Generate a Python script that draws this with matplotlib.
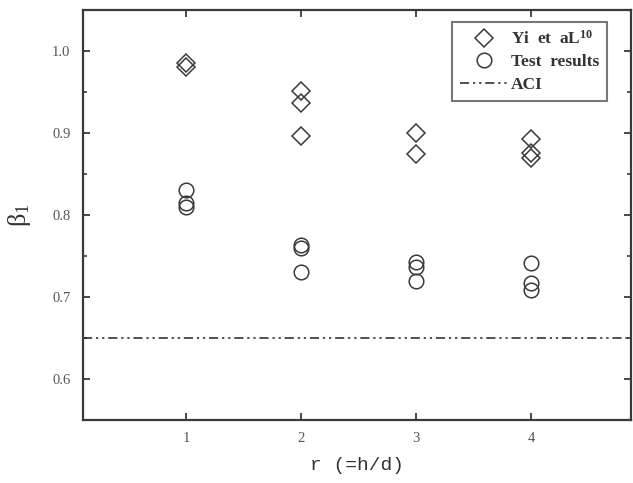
import numpy as np
import matplotlib.pyplot as plt
from matplotlib.ticker import MultipleLocator

# data
yi_x = [1, 1, 2, 2, 2, 3, 3, 4, 4, 4]
yi_beta = [0.985, 0.980, 0.951, 0.937, 0.896, 0.900, 0.874, 0.893, 0.876, 0.870]
test_x = [1, 1, 1, 2, 2, 2, 3, 3, 3, 4, 4, 4]
test_beta = [0.830, 0.815, 0.810, 0.763, 0.760, 0.730, 0.743, 0.737, 0.720, 0.742, 0.717, 0.709]
aci_beta = 0.65
x_ticks = [1, 2, 3, 4]
y_ticks = [0.6, 0.7, 0.8, 0.9, 1.0]

ink = '#3a3a3a'
plt.rcParams['font.family'] = 'Liberation Serif'
plt.rcParams['mathtext.default'] = 'regular'

fig = plt.figure(figsize=(6.33, 4.83), dpi=100)
ax = fig.add_axes([83/633, 1-420/483, 548/633, 410/483])

ax.plot(yi_x, yi_beta, 'D', ms=9.5, mfc='none', mec=ink, mew=1.1, label=r'Yi  et  aL$^{\mathregular{10}}$')
ax.plot(test_x, test_beta, 'o', ms=10.5, mfc='none', mec=ink, mew=1.1, label='Test  results')
ax.axhline(aci_beta, color='#222222', lw=1.1, ls=(0, (6, 2.5, 1.5, 2.5, 1.5, 2.5)), label='ACI')

ax.set_xlim(0.1, 4.87)
ax.set_ylim(0.55, 1.05)
ax.set_xticks(x_ticks)
ax.set_yticks(y_ticks)
ax.set_yticklabels(['%.1f' % v for v in y_ticks])
ax.yaxis.set_minor_locator(MultipleLocator(0.05))
ax.tick_params(which='both', direction='in', top=True, right=True, color=ink,
               labelcolor='#555555', labelsize=10.5)
ax.tick_params(which='major', length=5, width=1.3)
ax.tick_params(which='minor', length=3, width=1.2)
ax.tick_params(axis='x', pad=9)
ax.tick_params(axis='y', pad=9)
for s in ax.spines.values():
    s.set_color(ink); s.set_linewidth(1.6)

ax.set_xlabel('r (=h/d)', family='Liberation Mono', fontsize=14, color='#333333', labelpad=8)
ax.set_ylabel(r'$\beta_1$', fontsize=19, color='#333333', labelpad=14)

leg = ax.legend(loc='upper left', bbox_to_anchor=(0.673, 0.971), borderaxespad=0,
                fancybox=False, framealpha=1, edgecolor='#777777', handlelength=2.8,
                handletextpad=0.15, borderpad=0.45, labelspacing=0.38,
                prop={'weight': 'bold', 'size': 12.5})
leg.get_frame().set_linewidth(1.5)
for t in leg.get_texts():
    t.set_color('#333333')

fig.savefig('out.png', dpi=100)
